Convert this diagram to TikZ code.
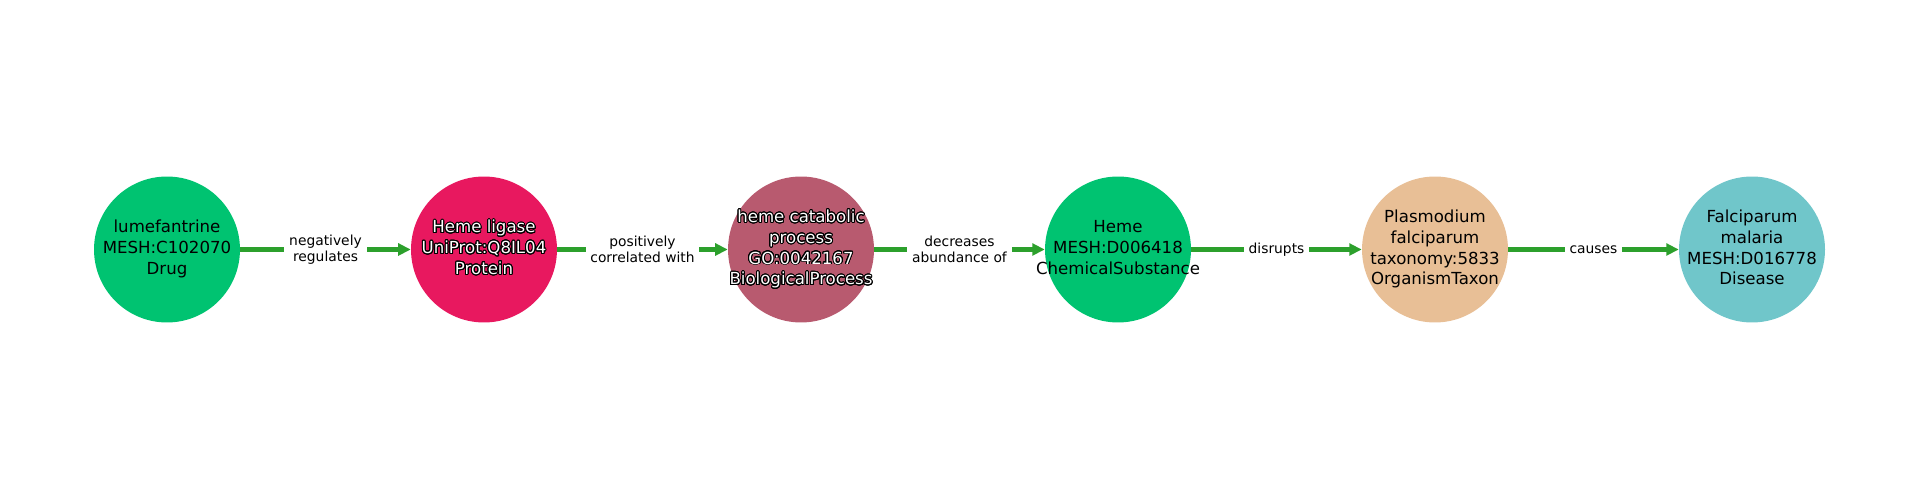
\documentclass[tikz,border=0pt]{standalone}
\usepackage{fontspec}
\setmainfont{DejaVu Sans}
\usepackage{contour}
\contourlength{0.7pt}
\contournumber{24}
\usetikzlibrary{arrows.meta}
\definecolor{cdrug}{HTML}{00C371}
\definecolor{cprot}{HTML}{E8185F}
\definecolor{cbio}{HTML}{B85A6F}
\definecolor{ctax}{HTML}{E8BF96}
\definecolor{cdis}{HTML}{70C6CA}
\definecolor{cedge}{HTML}{2CA02C}
\newcommand{\ol}[1]{\contour{black}{\textcolor{white}{#1}}}
\newcommand{\ctext}[1]{\makebox[0pt][c]{\begin{tabular}{@{}c@{}}#1\end{tabular}}}
\tikzset{
  nd/.style={circle, minimum size=105.1bp, inner sep=0pt, align=center,
    font=\fontsize{12}{15}\selectfont, text=black},
  edge/.style={draw=cedge, line width=3.1bp, -{Triangle[length=9bp,width=8.5bp]}},
  lbl/.style={fill=white, inner sep=3.5bp, align=center,
    font=\fontsize{10}{11.2}\selectfont, text=black}
}
\begin{document}
\begin{tikzpicture}[x=0.72bp,y=0.72bp]
\useasboundingbox (0,0) rectangle (1920,500);
\node[nd, fill=cdrug] (n1) at (167,250.5) {\ctext{lumefantrine\\MESH:C102070\\Drug}};
\node[nd, fill=cprot] (n2) at (484,250.5) {\ctext{\ol{Heme ligase}\\\ol{UniProt:Q8IL04}\\\ol{Protein}}};
\node[nd, fill=cbio] (n3) at (801,250.5) {\ctext{\ol{heme catabolic}\\\ol{process}\\\ol{GO:0042167}\\\ol{BiologicalProcess}}};
\node[nd, fill=cdrug] (n4) at (1118,250.5) {\ctext{Heme\\MESH:D006418\\ChemicalSubstance}};
\node[nd, fill=ctax] (n5) at (1435,250.5) {\ctext{Plasmodium\\falciparum\\taxonomy:5833\\OrganismTaxon}};
\node[nd, fill=cdis] (n6) at (1752,250.5) {\ctext{Falciparum\\malaria\\MESH:D016778\\Disease}};
\draw[edge] (n1) -- (n2) node[midway, lbl] (e1) {negatively\\regulates};
\draw[edge] (n2) -- (n3) node[midway, lbl] (e2) {positively\\correlated with};
\draw[edge] (n3) -- (n4) node[midway, lbl] (e3) {decreases\\abundance of};
\draw[edge] (n4) -- (n5) node[midway, lbl] (e4) {disrupts};
\draw[edge] (n5) -- (n6) node[midway, lbl] (e5) {causes};
\end{tikzpicture}
\end{document}
